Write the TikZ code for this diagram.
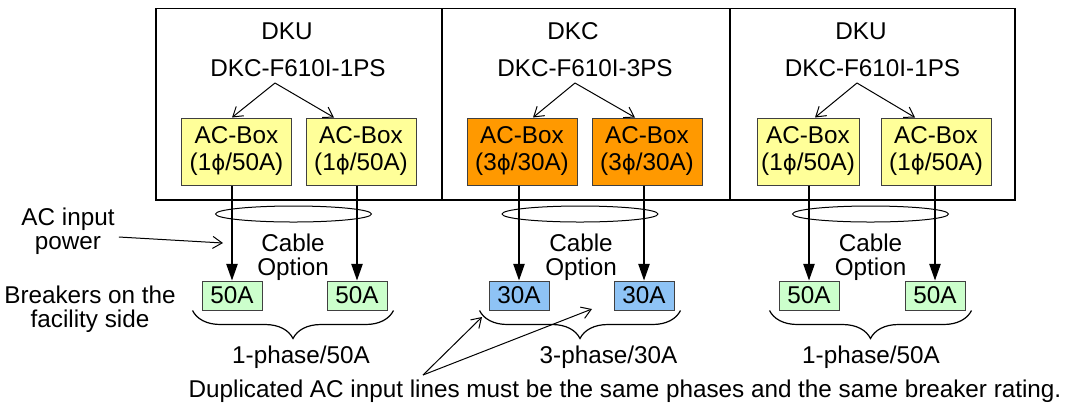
\documentclass[tikz,border=0pt]{standalone}
\usepackage{fontspec}
\setmainfont{Liberation Sans}
\newfontfamily\phifont{DejaVu Sans}
\usetikzlibrary{arrows.meta,calc,decorations.pathreplacing}
\definecolor{boxyellow}{HTML}{FFFF99}
\definecolor{boxorange}{HTML}{FF9900}
\definecolor{brkblue}{HTML}{8EC3F5}
\definecolor{brkgreen}{HTML}{CCFFCC}
\newcommand{\ph}{{\phifont\fontsize{16pt}{16pt}\selectfont ϕ}}
\tikzset{
  lbl/.style={font=\fontsize{18.2pt}{18pt}\selectfont, inner sep=0pt},
  panel/.style={draw, line width=1.3pt, minimum height=143.6pt, inner sep=0pt},
  acbox/.style={draw=black!75, line width=0.75pt, minimum width=82.5pt, minimum height=50.25pt,
    align=center, inner sep=0pt, font=\fontsize{18.2pt}{20.25pt}\selectfont},
  brk/.style={draw=black!75, line width=0.75pt, minimum width=45pt, minimum height=21.75pt,
    inner sep=0pt, font=\fontsize{18.2pt}{18pt}\selectfont},
  feed/.style={line width=1.1pt, -{Triangle[length=12.5pt,width=8.5pt]}},
  pointer/.style={line width=0.75pt, -{Straight Barb[length=7pt,width=9pt]}},
  cableloop/.style={line width=0.75pt},
  grp/.style={line width=0.9pt, decorate, decoration={brace, mirror, amplitude=21pt}}
}
\begin{document}
\begin{tikzpicture}[x=0.75pt,y=-0.75pt]
\useasboundingbox (0,0) rectangle (1070,405);
% cabinets
\node[panel, minimum width=214.5pt] (dku1) at (299,104.25) {};
\node[panel, minimum width=216pt] (dkc) at (586,104.25) {};
\node[panel, minimum width=213.75pt] (dku2) at (872.5,104.25) {};
\node[lbl, anchor=base] (t1) at (287,39.3) {DKU};
\node[lbl, anchor=base] (t2) at (573,39.3) {DKC};
\node[lbl, anchor=base] (t3) at (861,39.3) {DKU};
\node[lbl, anchor=base] (m1) at (298,76) {DKC-F610I-1PS};
\node[lbl, anchor=base] (m2) at (585,76) {DKC-F610I-3PS};
\node[lbl, anchor=base] (m3) at (872.5,76) {DKC-F610I-1PS};
% AC boxes
\node[acbox, fill=boxyellow] (ac1) at (236.5,151.5) {AC-Box\\(1\ph/50A)};
\node[acbox, fill=boxyellow] (ac2) at (361,151.5) {AC-Box\\(1\ph/50A)};
\node[acbox, fill=boxorange] (ac3) at (522,151.5) {AC-Box\\(3\ph/30A)};
\node[acbox, fill=boxorange] (ac4) at (647,151.5) {AC-Box\\(3\ph/30A)};
\node[acbox, fill=boxyellow, minimum width=76.5pt] (ac5) at (808,151.5) {AC-Box\\(1\ph/50A)};
\node[acbox, fill=boxyellow] (ac6) at (936,151.5) {AC-Box\\(1\ph/50A)};
\coordinate (s1) at (275,83);
\coordinate (s2) at (575,83);
\coordinate (s3) at (857,83);
\draw[pointer] (s1) -- ($(ac1.north)+(-4.5,0)$);
\draw[pointer] (s1) -- ($(ac2.north)+(-27,0)$);
\draw[pointer] (s2) -- ($(ac3.north)+(11,0)$);
\draw[pointer] (s2) -- ($(ac4.north)+(-12,0)$);
\draw[pointer] (s3) -- ($(ac5.north)+(7,0)$);
\draw[pointer] (s3) -- ($(ac6.north)+(-21,0)$);
% breakers
\node[brk, fill=brkgreen] (b1) at (232,295.5) {50A};
\node[brk, fill=brkgreen] (b2) at (357,295.5) {50A};
\node[brk, fill=brkblue] (b3) at (519,295.5) {30A};
\node[brk, fill=brkblue] (b4) at (644,295.5) {30A};
\node[brk, fill=brkgreen] (b5) at (809,295.5) {50A};
\node[brk, fill=brkgreen] (b6) at (935,295.5) {50A};
\foreach \a/\b in {ac1/b1,ac2/b2,ac3/b3,ac4/b4,ac5/b5,ac6/b6}
  \draw[feed] (\b.north |- \a.south) -- (\b.north);
% cables
\draw[cableloop] (293.5,214) ellipse [x radius=78, y radius=8];
\draw[cableloop] (580,214) ellipse [x radius=78, y radius=8];
\draw[cableloop] (870.5,214) ellipse [x radius=78, y radius=8];
\node[lbl, align=center] (c1) at (293,257) {Cable\\Option};
\node[lbl, align=center] (c2) at (581,257) {Cable\\Option};
\node[lbl, align=center] (c3) at (870.5,257) {Cable\\Option};
% braces
\draw[grp] ($(b1.south west)+(-9,0)$) -- ($(b2.south east)+(6,0)$);
\draw[grp] ($(b3.south west)+(-9,0)$) -- ($(b4.south east)+(6,0)$);
\draw[grp] ($(b5.south west)+(-9,0)$) -- ($(b6.south east)+(6,0)$);
\node[lbl, anchor=base] (g1) at (301,363) {1-phase/50A};
\node[lbl, anchor=base] (g2) at (608.5,363) {3-phase/30A};
\node[lbl, anchor=base] (g3) at (871,363) {1-phase/50A};
% side labels
\node[lbl, align=center] (acin) at (68,231) {AC input\\power};
\node[lbl, align=center] (brkside) at (90,309) {Breakers on the\\facility side};
\coordinate (acinTip) at (223,243);
\draw[pointer] ($(acin.east)+(4,6)$) -- (acinTip);
% note
\node[lbl, anchor=base] (note) at (625,397) {Duplicated AC input lines must be the same phases and the same breaker rating.};
\coordinate (nt) at (423,375);
\coordinate (nt1) at (482,317);
\coordinate (nt2) at (592,309);
\draw[pointer] (nt) -- (nt1);
\draw[pointer] (nt) -- (nt2);
\end{tikzpicture}
\end{document}
